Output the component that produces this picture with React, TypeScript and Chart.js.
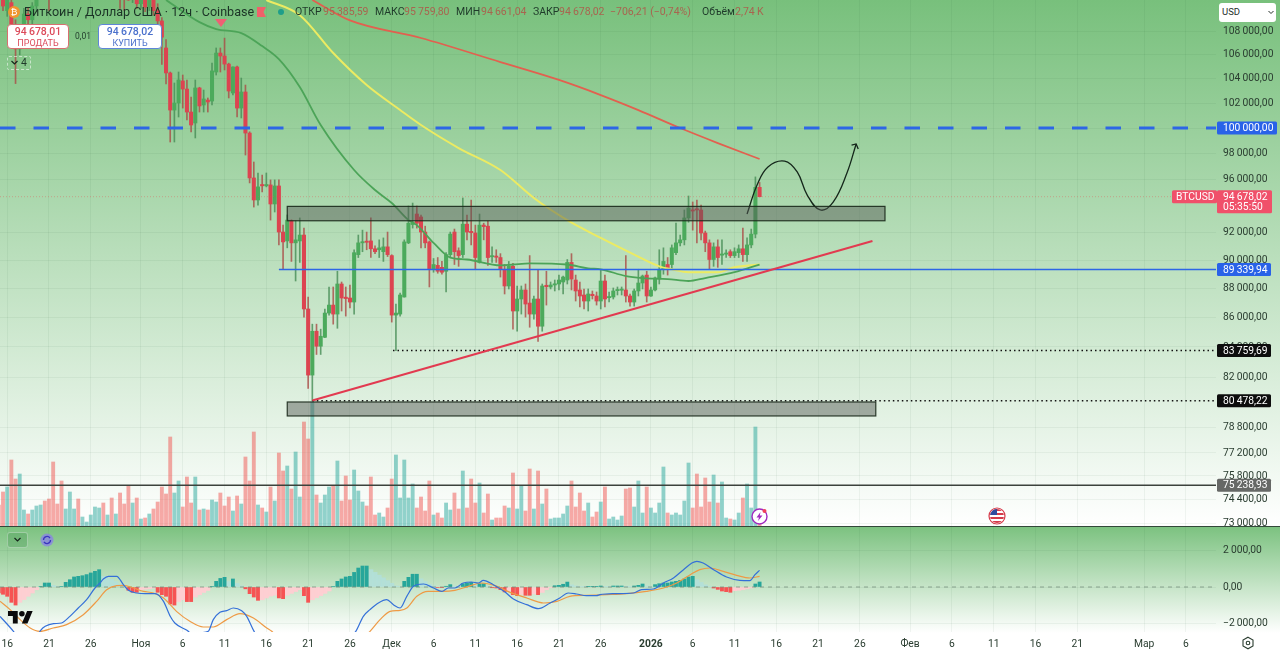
import React, { useEffect, useRef } from "react";
import { Chart, registerables } from "chart.js";

Chart.register(...registerables);

// Candle number of the first entry in every per-candle list (one candle per 12 hours, 0 = 16 Oct).
const firstCandle = -2;

const opens = [
  112000, 111000, 109800, 110500, 108000, 106500, 108000, 109500, 109000, 110200,
  111200, 112200, 111500, 112500, 111800, 111300, 111000, 111800, 112800, 113200,
  112000, 113500, 114200, 115000, 115500, 116000, 114800, 115200, 113000, 113500,
  111500, 110900, 110800, 111500, 110400, 110900, 110100, 110700, 109800, 108900, 106580,
  104480, 101440, 102010, 103820, 103150, 101280, 100400, 103240, 101850, 102250,
  102170, 104560, 106150, 105900, 105220, 102830, 104980, 101600, 102910, 99600,
  96100, 94430, 95600, 95500, 95570, 94130, 95490, 92050, 91400, 92880,
  91260, 91400, 91830, 86580, 82140, 85060, 84050, 84650, 86300, 86850,
  86230, 88320, 87400, 87340, 87060, 90410, 91260, 91380, 91400, 90830,
  90760, 90620, 90970, 90340, 86160, 86230, 87410, 91260, 92600, 93380,
  93160, 92050, 91330, 89360, 89640, 89500, 89220, 90410, 92050, 90690,
  90410, 92630, 92100, 91980, 89850, 92560, 92480, 90250, 90290, 90200,
  89360, 88180, 89570, 86440, 87270, 87900, 86990, 86230, 87270, 85400,
  88230, 88110, 88250, 88320, 88460, 88600, 89850, 88600, 87900, 87550,
  87130, 87600, 87480, 87130, 88530, 87360, 87410, 87850, 87880, 87900,
  87480, 87060, 87830, 88390, 88950, 87480, 87900, 88670, 89360, 89700,
  89700, 90550, 91260, 91480, 93090, 93680, 93760, 93680, 91980, 91260,
  90060, 90970, 90370, 90440, 90620, 90340, 90550, 90830, 90410, 91110,
  91900, 95385.59,
];

const highs = [
  113000, 112000, 111500, 111200, 109000, 108500, 110000, 110000, 110500, 111500,
  112500, 112800, 112000, 113000, 112500, 112000, 112000, 113000, 113500, 113500,
  113800, 114500, 115500, 116000, 116500, 116400, 115500, 115800, 114000, 114000,
  112000, 112000, 111700, 111900, 111200, 111200, 111000, 111200, 110400, 109200, 107300,
  104560, 103650, 104560, 104310, 103900, 102500, 103900, 103300, 103070, 102420,
  105300, 106580, 106580, 107420, 105300, 105000, 105060, 104060, 103480, 99700,
  97330, 96480, 96330, 96480, 95950, 95950, 95950, 92560, 93310, 92950,
  92880, 93090, 92340, 87410, 85540, 85540, 85200, 86580, 88110, 88110,
  89220, 88460, 88110, 88250, 90760, 91830, 92190, 92050, 93090, 91040,
  91480, 91620, 92050, 90400, 86920, 87690, 91480, 93980, 94200, 93980,
  93310, 92480, 91400, 90130, 90200, 89920, 90550, 92050, 92270, 90900,
  94580, 93310, 94430, 92560, 93380, 92700, 92850, 90970, 90760, 90480,
  89700, 89920, 89780, 88180, 88180, 88320, 90340, 87480, 89360, 88320,
  89220, 88460, 88600, 88950, 88880, 90060, 90480, 88950, 88460, 87970,
  87970, 87830, 87760, 89360, 88950, 87760, 88040, 88110, 88110, 90340,
  87620, 87970, 89360, 88950, 89220, 88110, 88810, 90760, 90900, 90200,
  91110, 92700, 91830, 93680, 94730, 94280, 94430, 94050, 92120, 91480,
  91260, 91480, 91480, 90760, 90760, 90900, 91110, 92340, 91620, 92270,
  96180, 95759.8,
];

const lows = [
  110500, 109800, 109300, 107000, 103600, 106000, 107500, 108500, 108500, 109700,
  111000, 110900, 109800, 111200, 111000, 110900, 110800, 111500, 112500, 111500,
  111800, 113000, 114000, 114500, 115000, 114000, 114300, 112500, 112500, 110000,
  109800, 110700, 110500, 110000, 110000, 109700, 109800, 109400, 108500, 105200, 103570,
  98890, 98890, 100880, 101600, 100640, 99680, 99210, 101280, 101280, 101280,
  101850, 104310, 104560, 104730, 102420, 102670, 100880, 100800, 97870, 95720,
  93900, 94050, 95030, 95420, 92930, 93530, 91110, 89360, 90900, 89920,
  88530, 89850, 86020, 81280, 80478.22, 83500, 83500, 84620, 86160, 85540,
  85260, 86440, 86090, 86650, 86230, 90200, 90620, 90760, 90200, 90480,
  90200, 89920, 90270, 85680, 83759.69, 86090, 87400, 91200, 92340, 92340,
  90900, 90900, 88110, 89150, 89080, 89010, 87760, 90200, 89700, 89570,
  90200, 91480, 91110, 89360, 89800, 91480, 89640, 89850, 89850, 88810,
  87620, 87970, 85200, 85060, 86230, 86020, 85330, 85880, 84380, 85060,
  86850, 87970, 87830, 87900, 87620, 88320, 87900, 87130, 86720, 86580,
  86440, 87270, 86850, 86580, 86720, 87060, 87270, 87550, 87550, 87060,
  86780, 86780, 87480, 87970, 87060, 87450, 87830, 88320, 89010, 88950,
  89360, 90410, 91040, 91110, 92770, 92190, 91260, 91480, 90620, 89360,
  89570, 89500, 89700, 90200, 90200, 90200, 90200, 89920, 89920, 90900,
  91620, 94661.04,
];

const closes = [
  111000, 110200, 111000, 108000, 106500, 108000, 109500, 109000, 110200, 111200,
  112200, 111500, 110800, 111800, 111300, 111000, 111800, 112800, 113200, 112000,
  113500, 114200, 115000, 115500, 116000, 114800, 115200, 113000, 113500, 111500,
  110900, 110800, 111500, 110400, 110900, 110100, 110700, 109800, 108900, 107500, 104480,
  101440, 102010, 103900, 103150, 101280, 100240, 103240, 101770, 102340, 102090,
  104650, 106150, 105900, 105220, 102990, 104980, 101600, 102910, 99600, 96100,
  94430, 95420, 95500, 95600, 94130, 95490, 92050, 91330, 92930, 91260,
  91480, 91830, 86580, 82140, 85060, 84050, 84720, 86300, 86850, 86230,
  88320, 87340, 87300, 87060, 90550, 91260, 91340, 91300, 90830, 90620,
  90900, 90970, 90410, 86160, 86300, 87550, 91330, 92700, 92750, 92700,
  92050, 91260, 89360, 89700, 89220, 89150, 90410, 91900, 90620, 90340,
  92630, 92050, 92000, 90200, 92560, 92450, 90200, 90300, 90220, 89360,
  88180, 89570, 86440, 87270, 87900, 86920, 86230, 87270, 85400, 88180,
  88130, 88250, 88320, 88600, 88810, 89850, 88670, 87830, 87480, 87130,
  87620, 87500, 87130, 88530, 87270, 87430, 87830, 87920, 87950, 87480,
  87060, 87830, 88390, 88880, 87480, 87900, 88740, 89360, 89920, 89360,
  90900, 91260, 91480, 93090, 93830, 93600, 93680, 91980, 91260, 90060,
  90970, 90200, 90440, 90520, 90340, 90620, 90830, 90410, 91110, 91900,
  95385, 94678.02,
];

// Volume, in thousands of BTC.
const volumes = [
  2.1, 3.4, 3.9, 6.6, 4.7, 5.2, 1.6, 1.2, 1.6, 2.0,
  2.1, 2.5, 2.7, 6.4, 2.2, 4.5, 1.7, 3.4, 1.7, 2.7,
  0.9, 0.4, 1.1, 1.9, 1.8, 2.3, 1.1, 2.8, 1.2, 3.3,
  2.2, 4.0, 2.3, 2.8, 0.7, 0.8, 1.2, 1.7, 2.4, 3.9, 3.2,
  8.9, 3.3, 4.5, 1.9, 4.9, 2.3, 4.9, 1.6, 1.7, 1.6,
  2.6, 2.4, 3.3, 2.0, 2.9, 1.5, 3.0, 2.2, 6.9, 4.5,
  9.4, 2.1, 1.8, 1.4, 3.9, 2.5, 7.3, 5.5, 6.0, 3.7,
  7.4, 2.9, 10.4, 8.7, 12.4, 3.1, 2.3, 3.1, 3.9, 4.0,
  6.5, 2.5, 5.0, 2.6, 5.6, 3.5, 2.4, 2.0, 4.9, 1.1,
  1.3, 0.9, 1.8, 4.7, 7.1, 2.8, 6.6, 2.8, 4.2, 1.8,
  2.9, 1.5, 4.5, 1.1, 1.3, 0.8, 2.3, 1.6, 3.3, 1.7,
  5.5, 1.8, 4.7, 2.3, 4.3, 1.3, 3.2, 0.6, 0.8, 0.8,
  2.0, 1.8, 5.3, 1.7, 4.0, 1.5, 5.7, 1.7, 5.5, 2.2,
  3.7, 0.7, 0.8, 0.8, 1.2, 2.0, 4.5, 1.9, 3.3, 1.5,
  2.3, 0.9, 1.4, 2.4, 3.9, 0.7, 0.9, 0.6, 1.0, 3.7,
  3.8, 1.9, 4.5, 1.3, 3.9, 1.8, 1.3, 2.3, 5.9, 1.3,
  1.1, 1.3, 1.1, 2.5, 6.3, 1.8, 5.2, 1.9, 4.8, 2.4,
  5.1, 2.3, 4.4, 0.8, 0.7, 0.6, 1.3, 2.8, 4.2, 1.8,
  9.9, 1.6,
];

const macdHist = [
  -330, -400, -510, -840, -990, -840, -690, -510, -330, -150,
  30, 220, 220, 90, 30, 30, 255, 400, 550, 585,
  620, 680, 770, 860, 950, 585, 510, 420, 300, 150,
  30, -180, -290, -290, -150, -120, -100, -60, -290, -420,
  -510, -930, -990, -800, -700, -800, -800, -550, -420, -300,
  -190, 30, 310, 470, 530, 300, 440, 200, 60, -100,
  -365, -550, -730, -700, -600, -500, -450, -600, -640, -450,
  -350, -250, -150, -475, -840, -700, -580, -470, -350, -220,
  30, 310, 440, 550, 585, 800, 1040, 1150, 1150, 950,
  800, 650, 500, 350, 200, 60, 30, 310, 530, 700,
  700, 450, 300, 150, 60, -30, -30, 40, 130, 50,
  30, 180, 220, 255, 100, 180, 180, 40, -40, -55,
  -145, -270, -200, -420, -475, -400, -455, -455, -380, -420,
  -300, -150, -40, 70, 90, 150, 270, 120, 60, 30,
  20, 20, 20, 20, 55, 20, 10, 55, 55, 55,
  15, 10, 55, 90, 165, 60, 30, 130, 180, 220,
  220, 275, 310, 365, 440, 550, 585, 400, 250, 120,
  40, -55, -130, -220, -255, -290, -200, -180, -150, -100,
  -50, 165, 275,
];

const macdAt = [
  -1.7, 1.5, 3.1, 6.3, 8, 9.1, 11.1, 13, 15, 17, 19, 21, 22.2, 23, 24.2, 26.2, 27.8, 29, 31, 33, 35.4, 37.4, 39, 40.1,
  43, 45, 46, 48.1, 49.3, 50.9, 52.5, 54.1, 56.1, 57.3, 59.3, 65, 75, 83.4, 85.2, 86.8, 88.8, 90.8, 92.4, 94, 95.6,
  97.2, 99.6, 102, 104, 105.5, 107.1, 109.1, 111.1, 112.7, 113.9, 116.3, 119.1, 121.1, 124.3, 127.1, 129.9, 132.2,
  134.2, 136.2, 138.6, 141, 141.8, 145, 149.8, 151.8, 154.6, 157, 159.4, 161.8, 163.8, 165, 166.5, 169, 172.1, 175.3,
  177.7, 178.9, 180,
];
const macdLine = [
  -1607, -2430, -2900, -3000, -2374, -2155, -2009, -1972, -1607, -1150, -694, -55, 219, 438, 584, 584, 128, -183, -329, -365, -365, -785, -1607, -1972,
  -2374, -2700, -2520, -2429, -1789, -1388, -1296, -1150, -1296, -1607, -2520, -3500, -3800, -2429, -1607, -1242, -876, -694, -968, -1150, -511,
  37, 164, -55, -237, -55, -55, 219, 274, 219, 365, 128, -274, -657, -968, -1187, -876, -603,
  -329, -383, -475, -475, -420, -365, -329, -146, -110, 219, 493, 950, 1315, 1406, 1315, 950, 548, 365,
  347, 676, 913,
];

const signalAt = [
  -1.7, 0.7, 3.1, 5.5, 7.8, 11, 14.2, 18.2, 21.4, 23.8, 26.2, 27.8, 30.2, 32.6, 35, 37.4, 40.5, 43.7, 46.9, 49.3, 52.5, 55.7, 58.9, 62.1, 63.3, 64.5, 75, 84,
  86.8, 89.2, 91.6, 94, 95.6, 98, 100.7, 104, 107.1, 110.3, 113.5, 116.7, 120.3, 124.3, 128.3, 131.5, 134.6, 138.6, 143.4, 148.2, 152.9, 157, 160.2, 163.4,
  165.7, 168.1, 171.3, 174.5, 177.7, 180,
];
const signalLine = [
  -785, -1242, -1789, -2246, -2429, -2246, -2063, -1516, -785, -146, 73, 91, -55, -237, -329, -603, -1333, -1881, -2191, -2191, -1789, -1461, -1698, -2246, -2429, -2700, -3500, -3000,
  -2429, -1789, -1333, -1278, -1150, -511, -237, -237, -183, 37, 219, 73, -292, -603, -876, -785, -511, -456, -420, -365, -237, -55, 219, 676,
  950, 1041, 858, 639, 493, 584,
];

// Moving averages, read at a few candles.
const greenMaAt = [38, 46, 50, 56, 61, 65, 70, 75, 83, 88, 92, 96, 98, 102, 106, 110, 118, 121, 125, 134, 139, 142, 148, 152, 158, 163, 167, 174, 180];
const greenMa = [110730, 108800, 108200, 107850, 106740, 105640, 103320, 100240, 96710, 95180, 94200, 92930, 92560, 91260, 90200, 90060, 89640, 89700, 89780, 89700, 89430, 89360, 88880, 88740, 88670, 88530, 88740, 89150, 89700];
const yellowMaAt = [62, 70, 78, 86, 94, 99, 108, 118, 126, 134, 142, 150, 156, 159, 163, 170, 174, 180];
const yellowMa = [110730, 109400, 106150, 103480, 101440, 100240, 98420, 96710, 94580, 92930, 91620, 90410, 89570, 89360, 89150, 89150, 89500, 89700];
const redMaAt = [73, 82, 99, 118, 132, 142, 151, 161, 170, 180];
const redMa = [110730, 108950, 107430, 105390, 103900, 102660, 101440, 100000, 98810, 97560];

// Hand drawings.
const curveAt = [177, 179.4, 182, 186, 189, 191.4, 194.5, 197.6, 200.9, 203.1];
const curvePrices = [93380, 95570, 96950, 97400, 96560, 94800, 93680, 94270, 96480, 98740];
const arrowAt = [202, 203.1, 203.6];
const arrowPrices = [98650, 98740, 98340];
const trendAt = [73, 207];
const trendPrices = [80500, 91390];
const zones = [
  { from: 67, to: 210, low: 92880, high: 93950 },
  { from: 67, to: 207.8, low: 79510, high: 80400 },
];

// Horizontal levels.
const resistance = 100000;
const support = 89339.94;
const dottedHigh = 83759.69;
const dottedLow = 80478.22;
const bottomLevel = 75238.93;
const lastPrice = 94678.02;

const priceTicks = [108000, 106000, 104000, 102000, 100000, 98000, 96000, 92000, 90000, 88000, 86000, 84000, 82000, 78800, 77200, 75800, 74400, 73000];
const macdTicks = [2000, 0, -2000];
const dateTickAt = [0, 10, 20, 32, 42, 52, 62, 72, 82, 92, 102, 112, 122, 132, 142, 154, 164, 174, 184, 194, 204, 216, 226, 236, 246, 256, 272, 282];
const dateTickLabels = ["16", "21", "26", "Ноя", "6", "11", "16", "21", "26", "Дек", "6", "11", "16", "21", "26", "2026", "6", "11", "16", "21", "26", "Фев", "6", "11", "16", "21", "Мар", "6"];

const xMin = -1.72;
const xMax = 289.19;

const FONT = "Roboto, sans-serif";
const up = (i: number) => closes[i] >= opens[i];
const candleX = (i: number) => i + firstCandle;

function fmt(v: number) {
  const [a, b] = Math.abs(v).toFixed(2).split(".");
  return (v < 0 ? "−" : "") + a.replace(/\B(?=(\d{3})+$)/g, "\u2009") + "," + b;
}

const pair = (at: number[], vals: number[]) => at.map((x, i) => ({ x, y: vals[i] }));
const hline = (price: number, from = xMin) => [{ x: from, y: price }, { x: xMax, y: price }];

const lineBase = { type: "line", pointRadius: 0, yAxisID: "y", fill: false };

const axisGrid = { color: "rgba(20,70,30,0.055)", drawTicks: false, offset: false, lineWidth: 1 };

const noPad = (s: any) => {
  s.paddingTop = 0;
  s.paddingBottom = 0;
  s.paddingLeft = 0;
  s.paddingRight = 0;
};

const priceOverlay = {
  id: "priceOverlay",
  afterDatasetsDraw(chart: any) {
    const { ctx, scales } = chart;
    ctx.save();
    zones.forEach((z) => {
      const x0 = scales.x.getPixelForValue(z.from);
      const x1 = scales.x.getPixelForValue(z.to);
      const y0 = scales.y.getPixelForValue(z.high);
      const y1 = scales.y.getPixelForValue(z.low);
      ctx.fillStyle = "rgba(85,90,85,0.48)";
      ctx.strokeStyle = "rgba(25,40,25,0.9)";
      ctx.lineWidth = 1.2;
      ctx.fillRect(x0, y0, x1 - x0, y1 - y0);
      ctx.strokeRect(x0, y0, x1 - x0, y1 - y0);
    });
    ctx.restore();
  },
  afterDraw(chart: any) {
    const { ctx, scales } = chart;
    const tag = (price: number, color: string, right: number, text: string) => {
      const y = scales.y.getPixelForValue(price);
      ctx.fillStyle = color;
      ctx.beginPath();
      ctx.roundRect(1217, y - 6.5, right - 1217, 13, 1.5);
      ctx.fill();
      ctx.fillStyle = "#fff";
      ctx.font = `10.3px ${FONT}`;
      ctx.textAlign = "left";
      ctx.textBaseline = "middle";
      ctx.fillText(text, 1223, y + 0.5);
    };
    ctx.save();
    tag(resistance, "#2962e8", 1277, fmt(resistance));
    tag(support, "#2962e8", 1271, fmt(support));
    tag(dottedHigh, "#0d0d0d", 1271, fmt(dottedHigh));
    tag(dottedLow, "#0d0d0d", 1271, fmt(dottedLow));
    tag(bottomLevel, "#666866", 1271, fmt(bottomLevel));
    const y = scales.y.getPixelForValue(lastPrice);
    ctx.fillStyle = "#f0506a";
    ctx.beginPath();
    ctx.roundRect(1217, y - 6.5, 55, 23, 1.5);
    ctx.fill();
    ctx.beginPath();
    ctx.roundRect(1172, y - 6.5, 45, 13, 1.5);
    ctx.fill();
    ctx.fillStyle = "#fff";
    ctx.font = `10.3px ${FONT}`;
    ctx.textBaseline = "middle";
    ctx.fillText("BTCUSD", 1176, y + 0.5);
    ctx.fillText(fmt(lastPrice), 1223, y + 0.5);
    ctx.fillText("05:35:50", 1223, y + 10.5);
    ctx.restore();
  },
};

const Txt = ({ x, y, size = 10.5, color = "#1f3a2a", weight = 400, children }: any) => (
  <span style={{ position: "absolute", left: x, top: y, fontSize: size, color, fontWeight: weight, lineHeight: "14px", whiteSpace: "nowrap" }}>{children}</span>
);

export default function App() {
  const topRef = useRef<HTMLCanvasElement>(null);
  const botRef = useRef<HTMLCanvasElement>(null);

  useEffect(() => {
    const idx = opens.map((_, i) => i);
    const top = new Chart(topRef.current as any, {
      type: "bar",
      plugins: [priceOverlay],
      data: {
        datasets: [
          {
            label: "Объём",
            yAxisID: "yV",
            order: 20,
            barThickness: 3.2,
            grouped: false,
            backgroundColor: idx.map((i) => (up(i) ? "rgba(38,166,154,0.5)" : "rgba(239,83,80,0.5)")),
            data: idx.map((i) => ({ x: candleX(i), y: volumes[i] })),
          },
          {
            label: "wicks",
            yAxisID: "y",
            order: 12,
            barThickness: 1,
            grouped: false,
            backgroundColor: idx.map((i) => (up(i) ? "rgba(70,140,85,0.8)" : "rgba(170,75,70,0.8)")),
            data: idx.map((i) => ({ x: candleX(i), y: [lows[i], highs[i]] })),
          },
          {
            label: "bodies",
            yAxisID: "y",
            order: 11,
            barThickness: 3.4,
            grouped: false,
            minBarLength: 1.2,
            backgroundColor: idx.map((i) => (up(i) ? "#4caa5c" : "#dc4450")),
            data: idx.map((i) => ({ x: candleX(i), y: [opens[i], closes[i]] })),
          },
          { ...lineBase, label: "MA green", order: 6, borderColor: "#4ca458", borderWidth: 1.8, cubicInterpolationMode: "monotone", data: pair(greenMaAt, greenMa) },
          { ...lineBase, label: "MA yellow", order: 6, borderColor: "#eceb62", borderWidth: 2, cubicInterpolationMode: "monotone", data: pair(yellowMaAt, yellowMa) },
          { ...lineBase, label: "MA red", order: 6, borderColor: "#e2604f", borderWidth: 1.8, cubicInterpolationMode: "monotone", data: pair(redMaAt, redMa) },
          { ...lineBase, label: "last", order: 8, borderColor: "rgba(225,85,85,0.4)", borderWidth: 1, borderDash: [1, 2], data: hline(lastPrice) },
          { ...lineBase, label: "100k", order: 4, borderColor: "#2d66e6", borderWidth: 3, borderDash: [15.5, 18], data: hline(resistance) },
          { ...lineBase, label: "support", order: 4, borderColor: "#2d66e6", borderWidth: 1.6, data: hline(support, 65) },
          { ...lineBase, label: "dots high", order: 4, borderColor: "#111", borderWidth: 1.4, borderDash: [1.5, 3], data: hline(dottedHigh, 92.3) },
          { ...lineBase, label: "dots low", order: 4, borderColor: "#111", borderWidth: 1.4, borderDash: [1.5, 3], data: hline(dottedLow, 73) },
          { ...lineBase, label: "bottom", order: 4, borderColor: "#3c423c", borderWidth: 1.5, data: hline(bottomLevel) },
          { ...lineBase, label: "trend", order: 3, borderColor: "#e23a50", borderWidth: 2, data: pair(trendAt, trendPrices) },
          { ...lineBase, label: "curve", order: 2, borderColor: "#14261a", borderWidth: 1.3, tension: 0.4, data: pair(curveAt, curvePrices) },
          { ...lineBase, label: "arrow", order: 2, borderColor: "#14261a", borderWidth: 1.3, data: pair(arrowAt, arrowPrices) },
        ],
      } as any,
      options: {
        animation: false,
        responsive: false,
        devicePixelRatio: 1,
        layout: { padding: 0 },
        plugins: { legend: { display: false }, tooltip: { enabled: false } },
        events: [],
        scales: {
          x: {
            type: "linear",
            min: xMin,
            max: xMax,
            bounds: "data",
            offset: false,
            grid: axisGrid,
            border: { display: false },
            ticks: { display: false },
            afterBuildTicks: (s: any) => { s.ticks = dateTickAt.map((value) => ({ value })); },
            afterFit: (s: any) => { s.height = 0; noPad(s); },
          },
          y: {
            type: "logarithmic",
            position: "right",
            min: 72840,
            max: 110730,
            bounds: "data",
            grid: axisGrid,
            border: { display: false },
            afterBuildTicks: (s: any) => { s.ticks = priceTicks.map((value) => ({ value })); },
            afterFit: (s: any) => { s.width = 64; noPad(s); },
            ticks: {
              autoSkip: false,
              padding: 7,
              color: "#2a3d30",
              font: { family: FONT, size: 10.3 },
              callback: (v: any) => fmt(Number(v)),
            },
          },
          yV: { type: "linear", display: false, min: 0, max: 52.6, bounds: "data" },
        },
      } as any,
    });

    const strong = idx.map((i) => {
      const v = macdHist[i];
      const p = i > 0 ? macdHist[i - 1] : v;
      return v >= 0 ? v >= p : v <= p;
    });
    const bottom = new Chart(botRef.current as any, {
      type: "bar",
      data: {
        datasets: [
          {
            label: "hist pale",
            order: 10,
            barThickness: 4.3,
            grouped: false,
            backgroundColor: (c: any) => ((c.raw?.y ?? 0) >= 0 ? "rgba(178,223,219,0.85)" : "rgba(255,205,210,0.95)"),
            data: idx.filter((i) => !strong[i]).map((i) => ({ x: candleX(i), y: macdHist[i] })),
          },
          {
            label: "hist strong",
            order: 9,
            barThickness: 3.2,
            grouped: false,
            backgroundColor: (c: any) => ((c.raw?.y ?? 0) >= 0 ? "#26a69a" : "#f65353"),
            data: idx.filter((i) => strong[i]).map((i) => ({ x: candleX(i), y: macdHist[i] })),
          },
          { type: "line", label: "zero", order: 8, pointRadius: 0, borderColor: "rgba(90,110,95,0.55)", borderWidth: 1, borderDash: [4, 4], data: hline(0) },
          { type: "line", label: "Сигнал", order: 6, pointRadius: 0, borderColor: "#ee9a45", borderWidth: 1.2, cubicInterpolationMode: "monotone", data: pair(signalAt, signalLine) },
          { type: "line", label: "MACD", order: 5, pointRadius: 0, borderColor: "#3470d8", borderWidth: 1.2, cubicInterpolationMode: "monotone", data: pair(macdAt, macdLine) },
        ],
      } as any,
      options: {
        animation: false,
        responsive: false,
        devicePixelRatio: 1,
        layout: { padding: 0 },
        plugins: { legend: { display: false }, tooltip: { enabled: false } },
        events: [],
        scales: {
          x: {
            type: "linear",
            min: xMin,
            max: xMax,
            bounds: "data",
            offset: false,
            grid: axisGrid,
            border: { display: false },
            afterBuildTicks: (s: any) => { s.ticks = dateTickAt.map((value) => ({ value })); },
            afterFit: (s: any) => { s.height = 21; noPad(s); },
            ticks: {
              autoSkip: false,
              maxRotation: 0,
              padding: 6,
              color: "#2a3d30",
              font: (c: any) => ({ family: FONT, size: 10.3, weight: c.tick && c.tick.value === 154 ? "700" : "400" }),
              callback: (v: any) => dateTickLabels[dateTickAt.indexOf(Number(v))] ?? "",
            },
          },
          y: {
            type: "linear",
            position: "right",
            min: -2466,
            max: 3288,
            bounds: "data",
            grid: axisGrid,
            border: { display: false },
            afterBuildTicks: (s: any) => { s.ticks = macdTicks.map((value) => ({ value })); },
            afterFit: (s: any) => { s.width = 64; noPad(s); },
            ticks: {
              autoSkip: false,
              padding: 7,
              color: "#2a3d30",
              font: { family: FONT, size: 10.3 },
              callback: (v: any) => fmt(Number(v)),
            },
          },
        },
      } as any,
    });
    return () => {
      top.destroy();
      bottom.destroy();
    };
  }, []);

  const brown = "#a8654f";
  const sp = "\u2009";
  return (
    <div style={{ position: "fixed", left: 0, top: 0, width: 1280, height: 653, overflow: "hidden", background: "#fff", fontFamily: FONT }}>
      <div style={{ position: "absolute", left: 0, top: 0, width: 1280, height: 526, background: "linear-gradient(#78c07c, #ffffff)" }} />
      <div style={{ position: "absolute", left: 0, top: 527, width: 1280, height: 106, background: "linear-gradient(#7cc280, #ffffff)" }} />
      <canvas ref={topRef} width={1280} height={526} style={{ position: "absolute", left: 0, top: 0, width: 1280, height: 526 }} />
      <canvas ref={botRef} width={1280} height={126} style={{ position: "absolute", left: 0, top: 527, width: 1280, height: 126 }} />
      <div style={{ position: "absolute", left: 0, top: 525.6, width: 1280, height: 1.5, background: "#33473a" }} />

      {/* header */}
      <div style={{ position: "absolute", left: 8, top: 6, width: 12, height: 12, borderRadius: 6, background: "#f0962e", color: "#fff", fontSize: 9, lineHeight: "12px", textAlign: "center" }}>₿</div>
      <Txt x={24} y={5} size={12.6} color="#1b3326">Биткоин / Доллар США · 12ч · Coinbase</Txt>
      <svg style={{ position: "absolute", left: 257, top: 7 }} width="9" height="10"><path d="M0 0H9L6.5 5L9 10H0Z" fill="#f0606a" /></svg>
      <div style={{ position: "absolute", left: 278, top: 9, width: 6, height: 6, borderRadius: 3, background: "#1f9e8a" }} />
      <Txt x={295} y={5} size={10.5}>ОТКР</Txt>
      <Txt x={323} y={5} size={10.5} color={brown}>{`95${sp}385,59`}</Txt>
      <Txt x={375} y={5} size={10.5}>МАКС</Txt>
      <Txt x={404} y={5} size={10.5} color={brown}>{`95${sp}759,80`}</Txt>
      <Txt x={456} y={5} size={10.5}>МИН</Txt>
      <Txt x={481} y={5} size={10.5} color={brown}>{`94${sp}661,04`}</Txt>
      <Txt x={533} y={5} size={10.5}>ЗАКР</Txt>
      <Txt x={559} y={5} size={10.5} color={brown}>{`94${sp}678,02`}</Txt>
      <Txt x={610} y={5} size={10.5} color={brown}>−706,21 (−0,74%)</Txt>
      <Txt x={702} y={5} size={10.5}>Объём</Txt>
      <Txt x={735} y={5} size={10.5} color={brown}>{`2,74${sp}K`}</Txt>
      <svg style={{ position: "absolute", left: 215, top: 19 }} width="12" height="8"><path d="M0 0H12L6 8Z" fill="#ef5f74" /></svg>

      {/* sell and buy */}
      <div style={{ position: "absolute", left: 7, top: 24, width: 62, height: 25, boxSizing: "border-box", border: "1px solid #d87070", borderRadius: 4, background: "#fff", textAlign: "center", color: "#dc4a5a" }}>
        <div style={{ fontSize: 10.5, fontWeight: 500, lineHeight: "13px" }}>{`94${sp}678,01`}</div>
        <div style={{ fontSize: 9, lineHeight: "10px" }}>ПРОДАТЬ</div>
      </div>
      <Txt x={75} y={29} size={8.5}>0,01</Txt>
      <div style={{ position: "absolute", left: 98, top: 24, width: 64, height: 25, boxSizing: "border-box", border: "1px solid #5f86d8", borderRadius: 4, background: "#fff", textAlign: "center", color: "#4a70cc" }}>
        <div style={{ fontSize: 10.5, fontWeight: 500, lineHeight: "13px" }}>{`94${sp}678,02`}</div>
        <div style={{ fontSize: 9, lineHeight: "10px" }}>КУПИТЬ</div>
      </div>
      <div style={{ position: "absolute", left: 7, top: 56, width: 24, height: 14, boxSizing: "border-box", border: "1px dashed rgba(255,255,255,0.55)", borderRadius: 2 }} />
      <svg style={{ position: "absolute", left: 11, top: 60 }} width="7" height="6"><path d="M0.5 1L3.5 4L6.5 1" stroke="#16261c" strokeWidth="1.2" fill="none" /></svg>
      <Txt x={21} y={56} size={10.5}>4</Txt>

      {/* currency */}
      <div style={{ position: "absolute", left: 1219, top: 3, width: 57, height: 19, borderRadius: 3, background: "#fff" }} />
      <Txt x={1222} y={5} size={9.5} color="#26302a">USD</Txt>
      <svg style={{ position: "absolute", left: 1268, top: 10 }} width="6" height="5"><path d="M0.5 1L3 3.5L5.5 1" stroke="#26302a" strokeWidth="1" fill="none" /></svg>

      {/* markers */}
      <svg style={{ position: "absolute", left: 750, top: 507 }} width="19" height="19" viewBox="0 0 19 19">
        <circle cx="9.5" cy="9.5" r="7.5" fill="#fff" stroke="#a02ac0" strokeWidth="1.4" />
        <path d="M10.5 5L6.5 10.5H9L8 14L12.5 8.5H9.8Z" fill="#a02ac0" />
        <circle cx="14.5" cy="4" r="2" fill="#f0405a" />
      </svg>
      <svg style={{ position: "absolute", left: 988, top: 507 }} width="18" height="18" viewBox="0 0 18 18">
        <clipPath id="usc"><circle cx="9" cy="9" r="7" /></clipPath>
        <circle cx="9" cy="9" r="8" fill="#fff" stroke="#d53a4a" strokeWidth="1.2" />
        <g clipPath="url(#usc)">
          <rect x="0" y="0" width="18" height="18" fill="#fff" />
          <rect x="0" y="2" width="18" height="2" fill="#d53a4a" />
          <rect x="0" y="6" width="18" height="2" fill="#d53a4a" />
          <rect x="0" y="10" width="18" height="2" fill="#d53a4a" />
          <rect x="0" y="14" width="18" height="2" fill="#d53a4a" />
          <rect x="2" y="2" width="7" height="6" fill="#2e4a9e" />
        </g>
      </svg>

      {/* MACD pane controls */}
      <div style={{ position: "absolute", left: 7, top: 532, width: 21, height: 16, boxSizing: "border-box", border: "1px solid rgba(255,255,255,0.35)", borderRadius: 3, background: "rgba(70,150,80,0.35)" }} />
      <svg style={{ position: "absolute", left: 14, top: 537 }} width="7" height="6"><path d="M0.5 1L3.5 4L6.5 1" stroke="#16261c" strokeWidth="1.2" fill="none" /></svg>
      <svg style={{ position: "absolute", left: 40, top: 533 }} width="14" height="14" viewBox="0 0 14 14">
        <circle cx="7" cy="7" r="6.5" fill="#8a80e8" opacity="0.75" />
        <path d="M3.5 7A3.5 3.5 0 0 1 10 5.2M10.5 7A3.5 3.5 0 0 1 4 8.8" stroke="#3a35c0" strokeWidth="1.3" fill="none" />
      </svg>
      <svg style={{ position: "absolute", left: 8, top: 608 }} width="25" height="20" viewBox="0 0 36 28">
        <path d="M14 22H7V11H0V4h14v18zM28 22h-8l7.5-18h8L28 22z" fill="#0a0a0a" />
        <circle cx="20" cy="8" r="4" fill="#0a0a0a" />
      </svg>
      <svg style={{ position: "absolute", left: 1241, top: 636 }} width="14" height="14" viewBox="0 0 14 14">
        <path d="M7 1.2L12 4V10L7 12.8L2 10V4Z" stroke="#2a3d30" strokeWidth="1.1" fill="none" />
        <circle cx="7" cy="7" r="1.8" stroke="#2a3d30" strokeWidth="1.1" fill="none" />
      </svg>
    </div>
  );
}
